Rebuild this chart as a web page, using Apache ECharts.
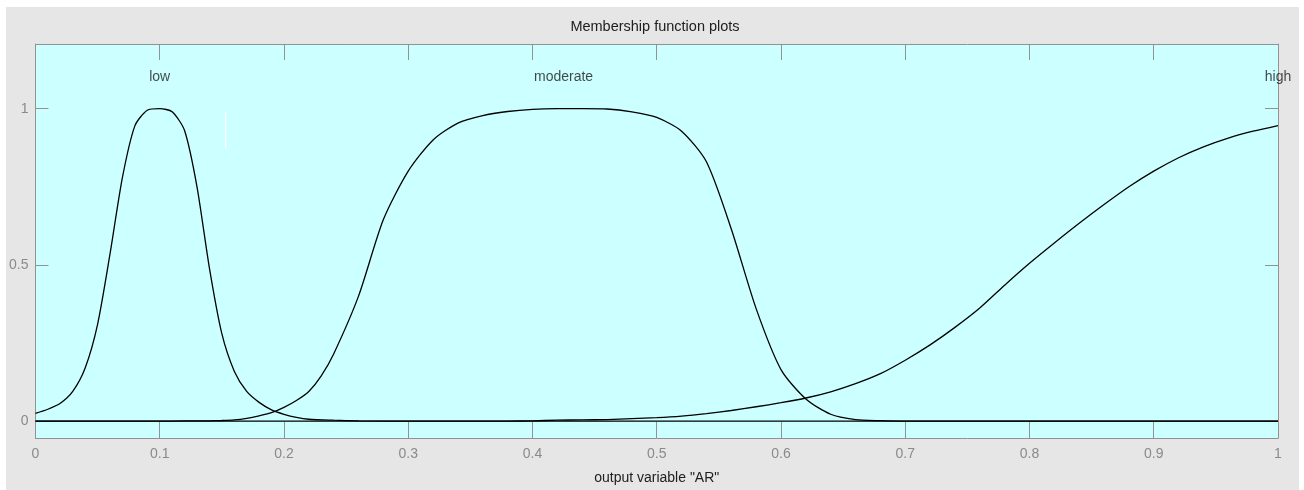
<!DOCTYPE html>
<html>
<head>
<meta charset="utf-8">
<script src="https://cdn.jsdelivr.net/npm/echarts@6/dist/echarts.min.js"></script>
<style>
  html, body { margin: 0; padding: 0; background: #ffffff; width: 1304px; height: 490px; overflow: hidden; }
  #frame { position: absolute; left: 6px; top: 7px; width: 1293px; height: 483px; background: #e6e6e6; }
  #chart { width: 1293px; height: 483px; }
</style>
</head>
<body>
<div id="frame"><div id="chart"></div></div>
<script>
// Membership functions of the output variable "AR"
const lowX = [0, 0.01, 0.02, 0.03, 0.04, 0.05, 0.06, 0.07, 0.08, 0.09, 0.10, 0.11, 0.12, 0.13, 0.14, 0.15, 0.16, 0.17, 0.18, 0.19, 0.20, 0.21, 0.22, 0.24, 0.26, 0.30, 0.40, 0.60, 1.00];
const lowY = [0.025, 0.038, 0.057, 0.095, 0.17, 0.31, 0.535, 0.78, 0.945, 0.995, 1.0, 0.99, 0.93, 0.75, 0.49, 0.28, 0.16, 0.095, 0.06, 0.036, 0.022, 0.012, 0.006, 0.003, 0.001, 0, 0, 0, 0];

const moderateX = [0, 0.10, 0.12, 0.14, 0.15, 0.16, 0.17, 0.18, 0.19, 0.20, 0.21, 0.22, 0.23, 0.24, 0.26, 0.28, 0.30, 0.32, 0.34, 0.36, 0.38, 0.40, 0.42, 0.44, 0.46, 0.48, 0.50, 0.52, 0.54, 0.56, 0.58, 0.60, 0.62, 0.64, 0.66, 0.68, 0.70, 0.80, 1.00];
const moderateY = [0, 0, 0.0005, 0.001, 0.002, 0.004, 0.009, 0.017, 0.027, 0.044, 0.066, 0.095, 0.145, 0.215, 0.40, 0.645, 0.80, 0.90, 0.954, 0.978, 0.991, 0.998, 1.0, 1.0, 0.999, 0.990, 0.972, 0.928, 0.83, 0.615, 0.36, 0.165, 0.071, 0.022, 0.005, 0.0015, 0, 0, 0];

const highX = [0, 0.38, 0.40, 0.42, 0.44, 0.46, 0.48, 0.50, 0.52, 0.54, 0.56, 0.58, 0.60, 0.62, 0.64, 0.66, 0.68, 0.70, 0.72, 0.74, 0.76, 0.78, 0.80, 0.82, 0.84, 0.86, 0.88, 0.90, 0.92, 0.94, 0.96, 0.98, 1.00];
const highY = [0, 0, 0.001, 0.003, 0.004, 0.005, 0.008, 0.011, 0.016, 0.024, 0.034, 0.046, 0.059, 0.074, 0.094, 0.12, 0.152, 0.195, 0.244, 0.30, 0.362, 0.435, 0.505, 0.57, 0.633, 0.693, 0.75, 0.80, 0.843, 0.878, 0.906, 0.928, 0.946];

// Function names placed above each function's centre
const mfNames = ['low', 'moderate', 'high'];
const mfCenters = [0.1, 0.425, 1.0];
const mfLabelY = [1.1, 1.1, 1.1];

// Short white cursor stroke inside the plot
const cursorX = [0.153, 0.153];
const cursorY = [0.875, 0.99];

// Axis ticks
const yTickValues = [0, 0.5, 1];
const xMin = 0, xMax = 1, xStep = 0.1;
const yMin = -0.054, yMax = 1.207;

const zip = (xs, ys) => xs.map((x, i) => [x, ys[i]]);

const axisGray = '#929292';
const labelGray = '#8a8a8a';
const font = '"Liberation Sans", Arial, sans-serif';

const curve = (name, xs, ys) => ({
  name: name,
  type: 'line',
  data: zip(xs, ys),
  showSymbol: false,
  smooth: 0.25,
  lineStyle: { color: '#000000', width: 1.3 },
  z: 3,
  silent: true
});

const chart = echarts.init(document.getElementById('chart'), null, { renderer: 'canvas' });

chart.setOption({
  animation: false,
  backgroundColor: 'transparent',
  graphic: [{
    type: 'text',
    x: 649,
    y: 20,
    style: {
      text: 'Membership function plots',
      fill: '#202020',
      font: '14.5px ' + font,
      align: 'center',
      verticalAlign: 'middle',
      textAlign: 'center',
      textVerticalAlign: 'middle'
    }
  }],
  grid: {
    left: 29, top: 37, right: 21, bottom: 50,
    show: true,
    backgroundColor: '#ccffff',
    borderWidth: 0
  },
  xAxis: [{
    type: 'value',
    position: 'bottom',
    min: xMin, max: xMax, interval: xStep,
    name: 'output variable "AR"',
    nameLocation: 'middle',
    nameGap: 33,
    nameTextStyle: { color: '#202020', fontSize: 14, fontFamily: font },
    axisLine: { show: true, onZero: false, lineStyle: { color: axisGray, width: 1 } },
    axisTick: { show: true, inside: true, length: 16, lineStyle: { color: axisGray } },
    axisLabel: { color: labelGray, fontSize: 14, fontFamily: font, margin: 9 },
    splitLine: { show: false }
  }, {
    type: 'value',
    position: 'top',
    min: xMin, max: xMax, interval: xStep,
    axisLine: { show: true, onZero: false, lineStyle: { color: axisGray, width: 1 } },
    axisTick: { show: true, inside: true, length: 16, lineStyle: { color: axisGray } },
    axisLabel: { show: false },
    splitLine: { show: false }
  }],
  yAxis: [{
    type: 'value',
    position: 'left',
    min: yMin, max: yMax,
    axisLine: { show: true, onZero: false, lineStyle: { color: axisGray, width: 1 } },
    axisTick: { show: true, inside: true, length: 13, customValues: yTickValues, lineStyle: { color: axisGray } },
    axisLabel: { color: labelGray, fontSize: 14, fontFamily: font, margin: 7, customValues: yTickValues },
    splitLine: { show: false }
  }, {
    type: 'value',
    position: 'right',
    min: yMin, max: yMax,
    axisLine: { show: true, onZero: false, lineStyle: { color: axisGray, width: 1 } },
    axisTick: { show: true, inside: true, length: 13, customValues: yTickValues, lineStyle: { color: axisGray } },
    axisLabel: { show: false },
    splitLine: { show: false }
  }],
  series: [
    curve('low', lowX, lowY),
    curve('moderate', moderateX, moderateY),
    curve('high', highX, highY),
    {
      name: 'cursor',
      type: 'line',
      data: zip(cursorX, cursorY),
      showSymbol: false,
      lineStyle: { color: '#ffffff', width: 1.2 },
      z: 2,
      silent: true
    },
    {
      name: 'labels',
      type: 'scatter',
      data: mfNames.map((n, i) => ({ name: n, value: [mfCenters[i], mfLabelY[i]] })),
      symbolSize: 0,
      clip: false,
      label: {
        show: true,
        position: 'inside',
        formatter: p => p.name,
        color: '#1a1a1a',
        fontSize: 14,
        fontFamily: font
      },
      silent: true,
      z: 4
    }
  ]
});
</script>
</body>
</html>
